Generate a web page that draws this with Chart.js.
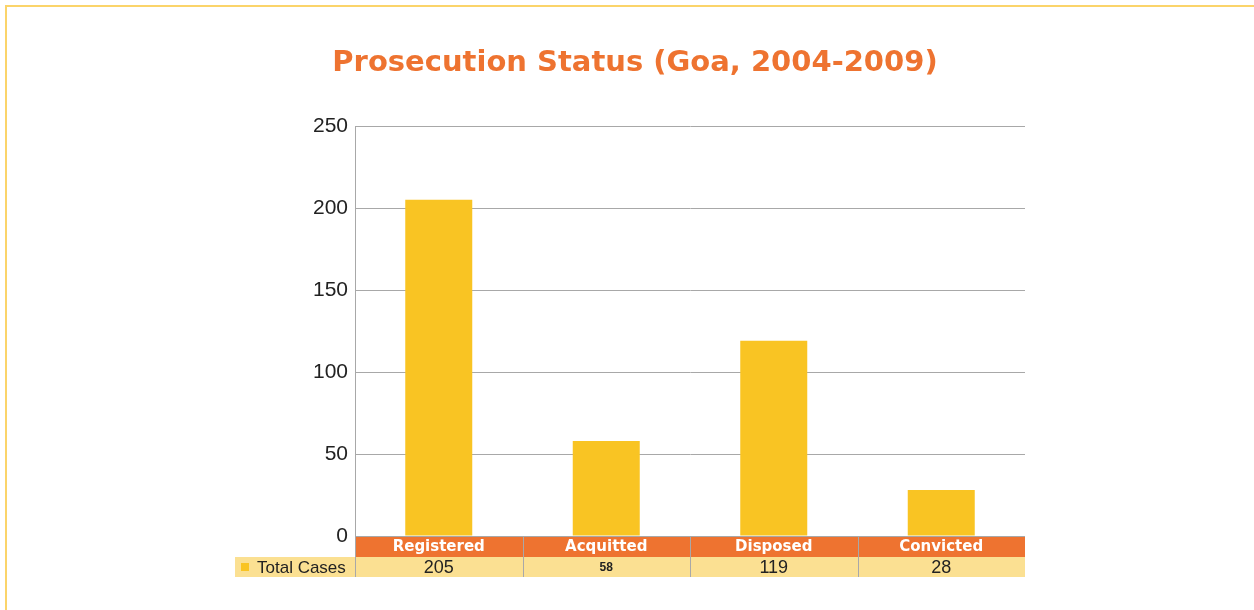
<!DOCTYPE html>
<html>
<head>
<meta charset="utf-8">
<script src="https://cdn.jsdelivr.net/npm/chart.js@4"></script>
<style>
    body { margin: 0; background: #fff; }
    #wrap { position: relative; width: 1254px; height: 610px; overflow: hidden; }
    #frame { position: absolute; left: 5px; top: 5px; width: 1260px; height: 620px;
             border-top: 2px solid #FBD46A; border-left: 2px solid #FBD46A; }
    #chart { position: absolute; left: 0; top: 0; }
</style>
</head>
<body>
<div id="wrap">
    <div id="frame"></div>
    <canvas id="chart" width="1254" height="610"></canvas>
</div>
<script>
const categories = ['Registered', 'Acquitted', 'Disposed', 'Convicted'];
const totalCases = [205, 58, 119, 28];
const seriesName = 'Total Cases';
const chartTitle = 'Prosecution Status (Goa, 2004-2009)';
const yTicks = [0, 50, 100, 150, 200, 250];

const BAR = '#F9C423';
const ORANGE = '#EE7330';
const ROW = '#FBE092';
const GRID = '#A8A8A8';

// title is centred on the page, not on the plot, so draw it by hand
const titlePlugin = {
    id: 'pageTitle',
    afterDraw(chart) {
        const ctx = chart.ctx;
        ctx.save();
        ctx.fillStyle = ORANGE;
        ctx.font = 'bold 29px "DejaVu Sans", sans-serif';
        ctx.textAlign = 'center';
        ctx.textBaseline = 'alphabetic';
        ctx.fillText(chartTitle, 635, 71);
        ctx.restore();
    }
};

// draws the data table under the plot (header row + values row)
const tablePlugin = {
    id: 'dataTable',
    afterDraw(chart) {
        const ctx = chart.ctx;
        const area = chart.chartArea;
        const x = chart.scales.x;
        const step = (area.right - area.left) / categories.length;
        const top = area.bottom;
        const headH = 21, rowH = 20;

        ctx.save();
        ctx.fillStyle = ORANGE;
        ctx.fillRect(area.left, top, area.right - area.left, headH);
        ctx.fillStyle = ROW;
        ctx.fillRect(235, top + headH, area.right - 235, rowH);

        // separators
        ctx.strokeStyle = GRID;
        ctx.lineWidth = 1;
        ctx.beginPath();
        ctx.moveTo(area.left, top + 0.5);
        ctx.lineTo(area.right, top + 0.5);
        for (let i = 0; i < categories.length; i++) {
            const xx = Math.round(area.left + step * i) + 0.5;
            ctx.moveTo(xx, top);
            ctx.lineTo(xx, top + headH + rowH);
        }
        ctx.stroke();

        ctx.textAlign = 'center';
        ctx.textBaseline = 'middle';
        categories.forEach((c, i) => {
            const cx = x.getPixelForValue(i);
            ctx.fillStyle = '#fff';
            ctx.font = 'bold 15px "DejaVu Sans", sans-serif';
            ctx.fillText(c, cx, top + headH / 2 + 1);
            ctx.fillStyle = '#222';
            if (totalCases[i] === 58) {
                ctx.font = 'bold 12px "Liberation Sans", Arial, sans-serif';
            } else {
                ctx.font = '18px "Liberation Sans", Arial, sans-serif';
            }
            ctx.fillText(String(totalCases[i]), cx, top + headH + rowH / 2 + 1);
        });

        // legend cell
        ctx.fillStyle = BAR;
        ctx.fillRect(241, top + headH + 6, 8, 8);
        ctx.fillStyle = '#222';
        ctx.textAlign = 'left';
        ctx.font = '17px "Liberation Sans", Arial, sans-serif';
        ctx.fillText(seriesName, 257, top + headH + rowH / 2 + 1);
        ctx.restore();
    }
};

new Chart(document.getElementById('chart'), {
    type: 'bar',
    data: {
        labels: categories,
        datasets: [{
            label: seriesName,
            data: totalCases,
            backgroundColor: BAR,
            borderWidth: 0,
            categoryPercentage: 0.4,
            barPercentage: 1
        }]
    },
    options: {
        responsive: false,
        animation: false,
        layout: { padding: { left: 0, right: 229, top: 126, bottom: 74 } },
        plugins: {
            legend: { display: false },
            tooltip: { enabled: false },
            title: { display: false }
        },
        scales: {
            x: {
                display: false
            },
            y: {
                min: 0,
                max: 250,
                afterBuildTicks(scale) {
                    scale.ticks = yTicks.map(v => ({ value: v }));
                },
                afterFit(scale) { scale.width = 355; },
                ticks: {
                    color: '#222',
                    padding: 7,
                    font: { family: '"Liberation Sans", Arial, sans-serif', size: 21 }
                },
                grid: { color: GRID, drawTicks: false, lineWidth: 1 },
                border: { color: GRID }
            }
        }
    },
    plugins: [titlePlugin, tablePlugin]
});
</script>
</body>
</html>
